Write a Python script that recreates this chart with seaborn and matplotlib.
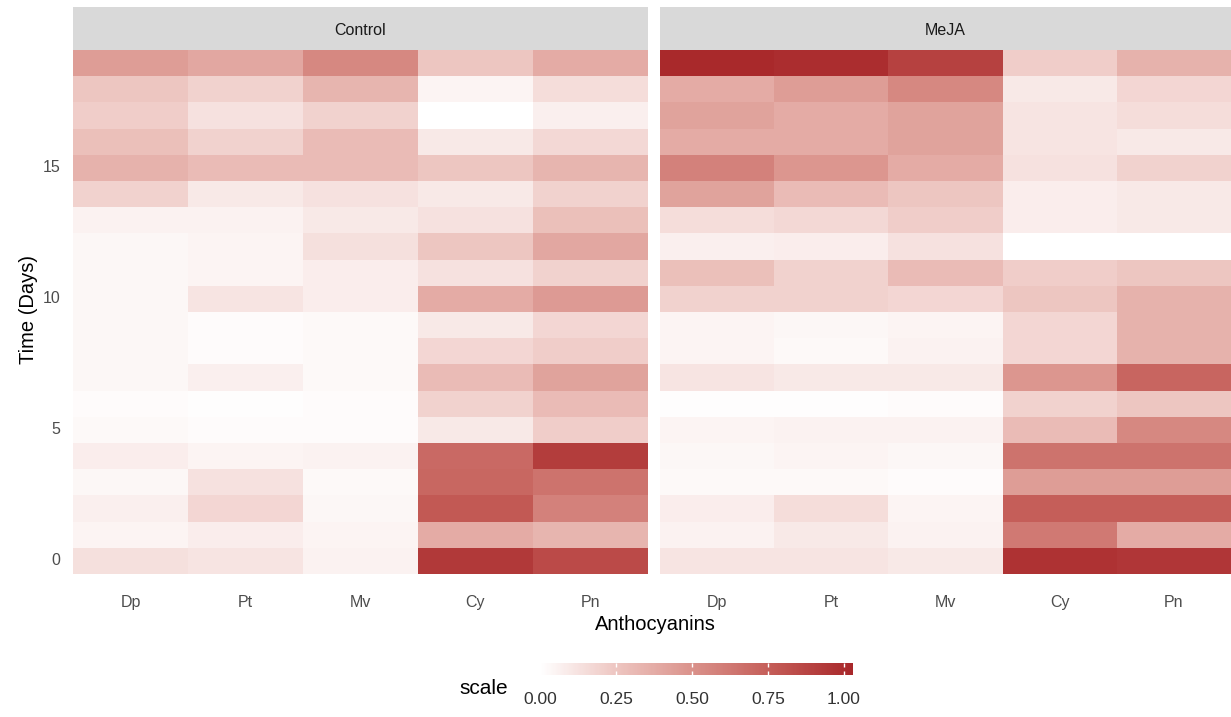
import matplotlib
matplotlib.use('Agg')
import matplotlib.pyplot as plt
import seaborn as sns
import pandas as pd
from matplotlib.colors import LinearSegmentedColormap

# Anthocyanin scaled levels, days 0..19 (bottom to top)
days = list(range(20))
anthocyanins = ["Dp", "Pt", "Mv", "Cy", "Pn"]
treatments = ["Control", "MeJA"]

ctrl_dp = [0.14, 0.05, 0.07, 0.04, 0.08, 0.03, 0.02, 0.04, 0.04, 0.04, 0.04, 0.04, 0.04, 0.06, 0.20, 0.35, 0.28, 0.22, 0.25, 0.45]
ctrl_pt = [0.12, 0.08, 0.18, 0.13, 0.05, 0.02, 0.01, 0.07, 0.02, 0.02, 0.12, 0.05, 0.05, 0.06, 0.10, 0.30, 0.20, 0.13, 0.20, 0.40]
ctrl_mv = [0.06, 0.05, 0.04, 0.03, 0.06, 0.02, 0.02, 0.03, 0.03, 0.03, 0.08, 0.08, 0.14, 0.10, 0.13, 0.30, 0.30, 0.20, 0.33, 0.55]
ctrl_cy = [0.94, 0.38, 0.78, 0.71, 0.70, 0.10, 0.20, 0.30, 0.18, 0.10, 0.38, 0.13, 0.25, 0.13, 0.10, 0.25, 0.10, 0.00, 0.05, 0.25]
ctrl_pn = [0.85, 0.33, 0.58, 0.65, 0.92, 0.22, 0.30, 0.42, 0.22, 0.18, 0.46, 0.20, 0.40, 0.28, 0.20, 0.33, 0.17, 0.07, 0.15, 0.38]

meja_dp = [0.12, 0.06, 0.08, 0.03, 0.04, 0.05, 0.01, 0.12, 0.05, 0.05, 0.20, 0.28, 0.07, 0.15, 0.42, 0.58, 0.38, 0.42, 0.38, 1.02]
meja_pt = [0.12, 0.10, 0.15, 0.03, 0.05, 0.06, 0.01, 0.10, 0.03, 0.04, 0.20, 0.20, 0.08, 0.17, 0.30, 0.48, 0.38, 0.38, 0.45, 1.00]
meja_mv = [0.10, 0.06, 0.05, 0.02, 0.04, 0.06, 0.02, 0.10, 0.06, 0.05, 0.18, 0.30, 0.13, 0.22, 0.25, 0.38, 0.42, 0.42, 0.55, 0.90]
meja_cy = [0.97, 0.62, 0.75, 0.45, 0.65, 0.30, 0.20, 0.48, 0.18, 0.18, 0.25, 0.22, 0.00, 0.08, 0.08, 0.13, 0.12, 0.12, 0.10, 0.22]
meja_pn = [0.95, 0.38, 0.75, 0.45, 0.65, 0.55, 0.25, 0.72, 0.35, 0.35, 0.35, 0.25, 0.00, 0.10, 0.10, 0.20, 0.10, 0.15, 0.18, 0.35]

series = {
    "Control": [ctrl_dp, ctrl_pt, ctrl_mv, ctrl_cy, ctrl_pn],
    "MeJA": [meja_dp, meja_pt, meja_mv, meja_cy, meja_pn],
}

# white -> firebrick, with warm midtones like ggplot's Lab gradient
cmap = LinearSegmentedColormap.from_list(
    "wr", ["#FFFFFF", "#EDC4BF", "#D98F88", "#C35A55", "#A8272A"])
vmax = 1.03

plt.rcParams['font.family'] = ['Liberation Sans', 'DejaVu Sans']
fig = plt.figure(figsize=(12.31, 7.17), dpi=100)

W, H = 1231, 717
def box(x0, y0, x1, y1):
    return [x0 / W, 1 - y1 / H, (x1 - x0) / W, (y1 - y0) / H]

panels = {"Control": (73, 648), "MeJA": (660, 1231)}
cax = fig.add_axes(box(540, 663, 853, 675))

for i, name in enumerate(treatments):
    x0, x1 = panels[name]
    ax = fig.add_axes(box(x0, 50, x1, 574))
    df = pd.DataFrame(dict(zip(anthocyanins, series[name])), index=days)
    df = df.iloc[::-1]
    sns.heatmap(df, ax=ax, cmap=cmap, vmin=0, vmax=vmax,
                cbar=(i == 0), cbar_ax=cax if i == 0 else None,
                cbar_kws={"orientation": "horizontal", "ticks": [0, 0.25, 0.5, 0.75, 1.0]})
    ax.tick_params(axis='both', length=0, colors='#4D4D4D', labelsize=11.5)
    ax.tick_params(axis='x', pad=15)
    ax.set_xticklabels(anthocyanins, rotation=0)
    if i == 0:
        ticks = [0, 5, 10, 15]
        ax.set_yticks([list(df.index).index(d) + 0.5 for d in ticks])
        ax.set_yticklabels([str(t) for t in ticks], rotation=0)
        ax.tick_params(axis='y', pad=9)
    else:
        ax.set_yticks([])
    ax.set_xlabel("")
    ax.set_ylabel("")

    # facet strip
    sax = fig.add_axes(box(x0, 7, x1, 50))
    sax.set_facecolor("#D9D9D9")
    sax.set_xticks([])
    sax.set_yticks([])
    for sp in sax.spines.values():
        sp.set_visible(False)
    sax.text(0.5, 0.45, name, ha='center', va='center', fontsize=11.5, color='#1A1A1A')

cax.tick_params(axis='x', direction='in', length=3, color='white', width=1,
                top=True, bottom=True, labeltop=False,
                labelsize=12.5, labelcolor='#333333', pad=12)
cax.set_xticklabels(["0.00", "0.25", "0.50", "0.75", "1.00"])
for sp in cax.spines.values():
    sp.set_visible(False)

fig.text(655 / W, 1 - 625 / H, "Anthocyanins", ha='center', va='center', fontsize=14.5, color='black')
fig.text(28 / W, 1 - 310 / H, "Time (Days)", ha='center', va='center', rotation=90, fontsize=14.5, color='black')
fig.text(484 / W, 1 - 688 / H, "scale", ha='center', va='center', fontsize=15, color='black')

fig.savefig("out.png", dpi=100)
